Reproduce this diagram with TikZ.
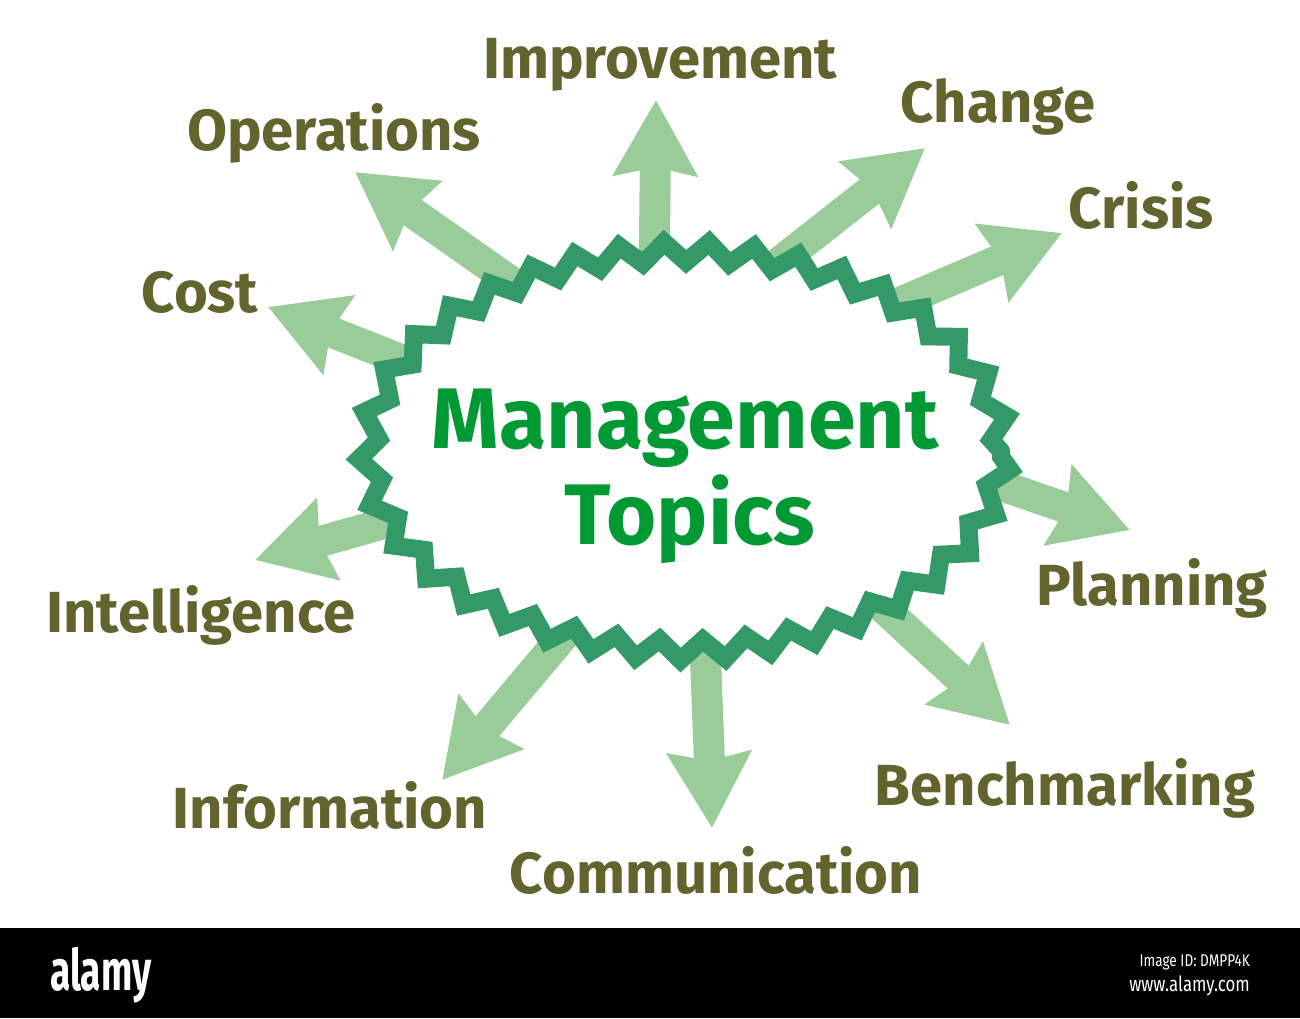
\documentclass[tikz,border=0pt]{standalone}
\usepackage{fontspec}
\setmainfont{Fira Sans}
\usepackage{tikz}
\usepackage{xcolor}
\usetikzlibrary{
    arrows.meta,
    shapes.geometric,
    decorations.pathmorphing,
    backgrounds,
    positioning
}
\definecolor{labelolive}{RGB}{99,99,45}
\definecolor{titlegreen}{RGB}{0,153,51}
\definecolor{zigline}{RGB}{51,153,102}
\definecolor{spokefill}{RGB}{153,204,153}
\tikzset{
    topic/.style={anchor=base, text=labelolive, inner sep=0pt, font=\bfseries\fontsize{58}{60}\selectfont},
    heading/.style={anchor=base, text=titlegreen, inner sep=0pt, font=\bfseries\fontsize{86}{88}\selectfont},
    hub/.style={ellipse, draw=zigline, fill=white, line width=18pt, inner sep=0pt, line cap=round,
        minimum width=632pt, minimum height=398pt,
        decorate, decoration={zigzag, segment length=44.15pt, amplitude=10pt}},
    spoke/.style={draw=spokefill, line width=31pt, -{Stealth[length=75pt, width=82pt, inset=8pt]}},
    stamp/.style={text=white, inner sep=0pt}
}

\begin{document}
\begin{tikzpicture}[x=1pt, y=-1pt]
    \useasboundingbox (0,0) rectangle (1300,1018);

    \node[hub] (hub) at (685,451) {};
    \node[heading] (mgmt) at (685,448) {Management};
    \node[heading] (topics) at (690,544) {Topics};

    \node[topic] (improvement) at (660,78) {Improvement};
    \node[topic] (change) at (998,122) {Change};
    \node[topic] (crisis) at (1141,228) {Crisis};
    \node[topic] (planning) at (1152,605) {Planning};
    \node[topic] (benchmarking) at (1065,805) {Benchmarking};
    \node[topic] (communication) at (716,893) {Communication};
    \node[topic] (information) at (330,828) {Information};
    \node[topic] (intelligence) at (201,632) {Intelligence};
    \node[topic] (cost) at (200,312) {Cost};
    \node[topic] (operations) at (334,150) {Operations};

    \coordinate (s1) at (654,285);  \coordinate (t1) at (656,100);
    \coordinate (s2) at (763,275);  \coordinate (t2) at (925,148);
    \coordinate (s3) at (868,316);  \coordinate (t3) at (1062,233);
    \coordinate (s4) at (962,472);  \coordinate (t4) at (1130,530);
    \coordinate (s5) at (851,578);  \coordinate (t5) at (1010,725);
    \coordinate (s6) at (704,620);  \coordinate (t6) at (712,828);
    \coordinate (s7) at (586,609);  \coordinate (t7) at (442,780);
    \coordinate (s8) at (428,511);  \coordinate (t8) at (255,560);
    \coordinate (s9) at (435,373);  \coordinate (t9) at (268,307);
    \coordinate (s10) at (530,295); \coordinate (t10) at (355,172);

    \begin{scope}[on background layer]
        \fill[white] (0,0) rectangle (1300,928);
        \draw
        (s1) edge[spoke] (t1)
        (s2) edge[spoke] (t2)
        (s3) edge[spoke] (t3)
        (s4) edge[spoke] (t4)
        (s5) edge[spoke] (t5)
        (s6) edge[spoke] (t6)
        (s7) edge[spoke] (t7)
        (s8) edge[spoke] (t8)
        (s9) edge[spoke] (t9)
        (s10) edge[spoke] (t10);
    \end{scope}

    \fill[black] (0,928) rectangle (1300,1018);
    \node[stamp, anchor=base west, font=\bfseries\fontsize{57}{58}\selectfont] (brand) at (50,990) {\scalebox{0.65}[1]{alamy}};
    \node[stamp, anchor=base east, font=\fontsize{17}{18}\selectfont] (imageid) at (1250,966) {\scalebox{0.8}[1]{Image ID: DMPP4K}};
    \node[stamp, anchor=base east, font=\fontsize{21}{22}\selectfont] (site) at (1250,991) {\scalebox{0.8}[1]{www.alamy.com}};
\end{tikzpicture}
\end{document}
